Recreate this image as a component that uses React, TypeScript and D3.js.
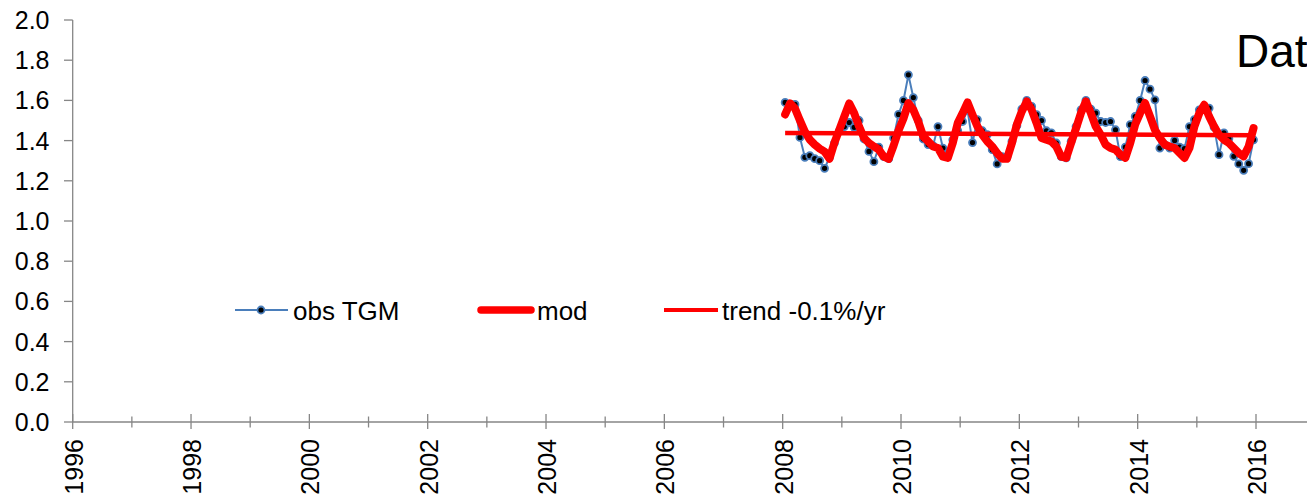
import React from "react";
import * as d3 from "d3";

// Monthly series, Jan 2008 .. Dec 2015
const startYear = 2008;
const obsTGM = [
  1.59, 1.58, 1.58, 1.416, 1.317, 1.325, 1.31, 1.30, 1.262, 1.317, 1.388, 1.449,
  1.47, 1.49, 1.466, 1.50, 1.408, 1.346, 1.295, 1.368, 1.32, 1.31, 1.413, 1.53,
  1.60, 1.727, 1.614, 1.50, 1.408, 1.38, 1.375, 1.47, 1.363, 1.33, 1.404, 1.45,
  1.495, 1.55, 1.39, 1.504, 1.449, 1.43, 1.355, 1.284, 1.32, 1.32, 1.396, 1.474,
  1.557, 1.60, 1.57, 1.529, 1.50, 1.449, 1.438, 1.388, 1.32, 1.314, 1.396, 1.47,
  1.553, 1.60, 1.557, 1.537, 1.495, 1.49, 1.495, 1.454, 1.32, 1.368, 1.479, 1.52,
  1.60, 1.699, 1.656, 1.603, 1.363, 1.38, 1.363, 1.401, 1.368, 1.36, 1.47, 1.504,
  1.553, 1.56, 1.562, 1.467, 1.33, 1.438, 1.41, 1.322, 1.284, 1.252, 1.285, 1.404,
];
const modValues = [
  1.53, 1.585, 1.56, 1.50, 1.445, 1.405, 1.38, 1.36, 1.345, 1.31, 1.39, 1.455,
  1.52, 1.585, 1.537, 1.47, 1.413, 1.388, 1.371, 1.355, 1.32, 1.309, 1.375, 1.45,
  1.51, 1.587, 1.553, 1.495, 1.421, 1.396, 1.371, 1.363, 1.32, 1.314, 1.388, 1.487,
  1.537, 1.59, 1.529, 1.47, 1.429, 1.396, 1.371, 1.338, 1.31, 1.31, 1.388, 1.48,
  1.545, 1.595, 1.553, 1.487, 1.413, 1.404, 1.396, 1.371, 1.32, 1.314, 1.388, 1.462,
  1.537, 1.595, 1.537, 1.47, 1.429, 1.38, 1.363, 1.355, 1.33, 1.314, 1.388, 1.48,
  1.537, 1.587, 1.52, 1.454, 1.413, 1.38, 1.371, 1.363, 1.338, 1.314, 1.363, 1.47,
  1.537, 1.578, 1.52, 1.47, 1.429, 1.404, 1.388, 1.363, 1.338, 1.322, 1.371, 1.462,
];
const trendValues = [1.438, 1.427]; // first and last month

const yTicks = [0, 0.2, 0.4, 0.6, 0.8, 1.0, 1.2, 1.4, 1.6, 1.8, 2.0];
const xMajorTicks = [1996, 1998, 2000, 2002, 2004, 2006, 2008, 2010, 2012, 2014, 2016];
const xMinorTicks = [1997, 1999, 2001, 2003, 2005, 2007, 2009, 2011, 2013, 2015, 2017];
const legendLabels = ["obs TGM", "mod", "trend -0.1%/yr"];
const cornerText = "Dat";

const W = 1307;
const H = 498;
const FONT = "'Liberation Sans', Arial, Helvetica, sans-serif";
const AXIS = "#868686";
const BLUE = "#4A7EBB";
const RED = "#FF0000";

export default function App() {
  const x = d3.scaleLinear().domain([1996, 2016]).range([72.7, 1256]);
  const y = d3.scaleLinear().domain([0, 2]).range([422, 20]);
  const tOf = (i: number) => startYear + (i + 0.5) / 12;

  const line = d3
    .line<number>()
    .x((_, i) => x(tOf(i)))
    .y((d) => y(d));

  const trendPts: [number, number][] = [
    [x(tOf(0)), y(trendValues[0])],
    [x(tOf(obsTGM.length - 1)), y(trendValues[1])],
  ];

  const legendY = 310;
  const legendBase = 320;

  return (
    <svg
      width={W}
      height={H}
      style={{ position: "absolute", left: 0, top: 0, background: "#fff" }}
      fontFamily={FONT}
    >
      <rect x={0} y={0} width={W} height={H} fill="#fff" />
      {/* Y axis */}
      <line x1={x(1996)} x2={x(1996)} y1={y(2)} y2={y(0)} stroke={AXIS} strokeWidth={1.3} />
      {yTicks.map((t) => (
        <g key={"y" + t}>
          <line x1={64} x2={x(1996)} y1={y(t)} y2={y(t)} stroke={AXIS} strokeWidth={1.3} />
          <text x={49.5} y={y(t)} dy="0.36em" textAnchor="end" fontSize={25} fill="#000">
            {t.toFixed(1)}
          </text>
        </g>
      ))}
      {/* X axis */}
      <line x1={x(1996)} x2={W} y1={y(0)} y2={y(0)} stroke={AXIS} strokeWidth={1.3} />
      {xMinorTicks.map((t) => (
        <line key={"mx" + t} x1={x(t)} x2={x(t)} y1={y(0) - 5.5} y2={y(0) + 5.5} stroke={AXIS} strokeWidth={1.3} />
      ))}
      {xMajorTicks.map((t) => (
        <g key={"x" + t}>
          <line x1={x(t)} x2={x(t)} y1={y(0) - 8} y2={y(0) + 7} stroke={AXIS} strokeWidth={1.3} />
          <text
            transform={`translate(${x(t)},${439}) rotate(-90)`}
            dy="0.4em"
            textAnchor="end"
            fontSize={25}
            fill="#000"
          >
            {t}
          </text>
        </g>
      ))}

      {/* obs TGM */}
      <path d={line(obsTGM) || ""} fill="none" stroke={BLUE} strokeWidth={2} />
      {obsTGM.map((v, i) => (
        <circle key={"o" + i} cx={x(tOf(i))} cy={y(v)} r={3.5} fill="#000" stroke={BLUE} strokeWidth={1.8} />
      ))}
      {/* trend */}
      <line
        x1={trendPts[0][0]}
        y1={trendPts[0][1]}
        x2={trendPts[1][0]}
        y2={trendPts[1][1]}
        stroke={RED}
        strokeWidth={4.5}
      />
      {/* mod */}
      <path
        d={line(modValues) || ""}
        fill="none"
        stroke={RED}
        strokeWidth={8}
        strokeLinejoin="round"
        strokeLinecap="round"
      />

      {/* Legend */}
      <line x1={235} x2={288} y1={legendY} y2={legendY} stroke={BLUE} strokeWidth={2} />
      <circle cx={261} cy={legendY} r={3.5} fill="#000" stroke={BLUE} strokeWidth={1.8} />
      <text x={293} y={legendBase} fontSize={26} fill="#000">{legendLabels[0]}</text>
      <line x1={481} x2={531} y1={legendY} y2={legendY} stroke={RED} strokeWidth={7.5} strokeLinecap="round" />
      <text x={537} y={legendBase} fontSize={26} fill="#000">{legendLabels[1]}</text>
      <line x1={664} x2={718} y1={legendY} y2={legendY} stroke={RED} strokeWidth={4} />
      <text x={722} y={legendBase} fontSize={26} fill="#000">{legendLabels[2]}</text>

      <text x={1236} y={67} fontSize={46} fill="#000">{cornerText}</text>
    </svg>
  );
}
